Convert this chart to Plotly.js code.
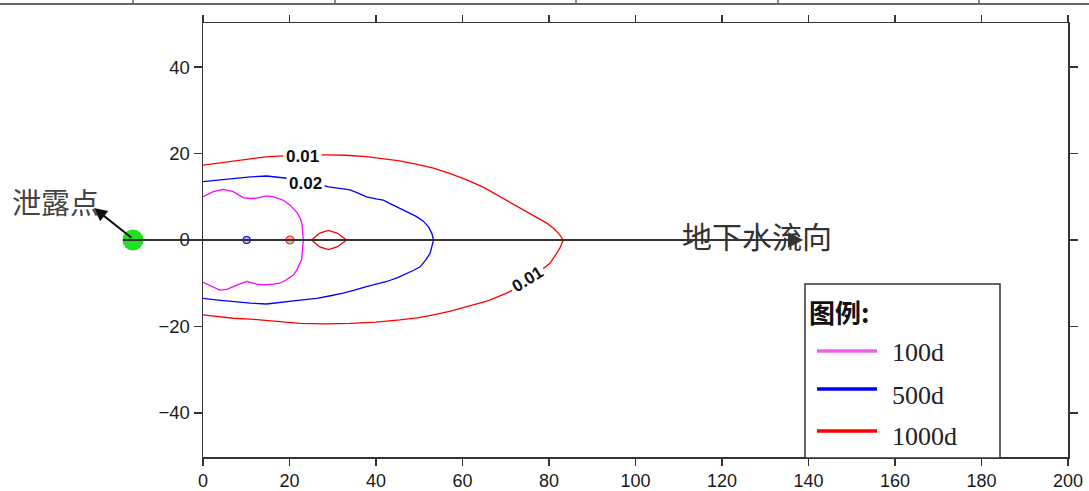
<!DOCTYPE html>
<html>
<head>
<meta charset="utf-8">
<script src="https://cdn.plot.ly/plotly-3.0.1.min.js"></script>
<style>html,body{margin:0;padding:0;background:#fff;}#chart{width:1089px;height:491px;}</style>
</head>
<body>
<div id="chart"></div>
<script>
// ---- data ----
const seriesNames = ['100d', '500d', '1000d'];
const contourLabels = ['0.01', '0.02', '0.01'];

// 100d contour (magenta)
const magX = [0, 2.4, 4.7, 7, 9.3, 11, 12.4, 14.7, 16.3, 18.6, 20.2, 21.7, 22.5, 22.9, 23.2, 22.9, 22.8, 21.7, 20.9, 19.3, 17.8, 16.3, 14, 12.4, 10.1, 8, 5.5, 3.9, 2, 0];
const magY = [10, 11.2, 11.7, 11.2, 9.8, 9.6, 9.7, 10.2, 10, 9.2, 8.0, 6.4, 5, 3.5, 0, -3, -4.5, -6.9, -8.1, -9.2, -10, -10.2, -10.4, -10.2, -9.6, -10.4, -11.4, -11.6, -10.8, -9.8];

// 500d contour 0.02 (blue)
const blueX = [0, 3.5, 7, 11, 14.7, 18, 22, 26, 29, 32, 34, 36, 37.8, 40, 41.7, 43.5, 45.5, 47.5, 49.4, 51, 52.1, 52.9, 53.3, 52.9, 52.5, 51.5, 50.2, 48.7, 47.1, 45, 42.5, 40, 37.8, 35, 32.4, 29.5, 26.3, 22.5, 18.6, 14.7, 11, 7, 3.5, 0];
const blueY = [13.5, 13.9, 14.3, 14.6, 14.8, 14.5, 14.0, 13.2, 12.3, 11.9, 11.6, 10.8, 10.0, 9.5, 9.2, 8.3, 7.3, 6.4, 5.4, 4.3, 3.1, 1.6, 0, -1.6, -3.1, -4.6, -6.2, -7.0, -7.7, -8.7, -9.6, -10.2, -10.8, -11.6, -12.3, -12.9, -13.5, -13.9, -14.3, -14.8, -14.6, -14.3, -13.9, -13.5];
const blueDotX = [10.1];
const blueDotY = [0];

// 1000d contour 0.01 (red)
const redX = [0, 3.5, 7, 11, 15, 20, 24, 28.6, 33, 37.8, 41.5, 45.5, 49.5, 53.3, 57, 61, 65, 68.7, 72, 74.8, 77.5, 79.5, 81.3, 82.5, 83.3, 82.5, 81.5, 80.2, 77, 74, 70.2, 66, 61, 57, 53.3, 49.5, 45.5, 40, 34, 28, 22.4, 18, 14.7, 11, 7, 3.5, 0];
const redY = [17.3, 17.8, 18.3, 18.8, 19.3, 19.5, 19.7, 19.7, 19.6, 19.3, 18.9, 18.3, 17.5, 16.6, 15.4, 13.9, 12.1, 10.0, 8.2, 6.5, 5.1, 3.9, 2.5, 1.2, 0, -1.9, -3.5, -5.4, -8.0, -10.3, -12.3, -14.0, -15.4, -16.5, -17.3, -18.0, -18.5, -19.0, -19.3, -19.4, -19.3, -18.9, -18.5, -18.3, -18.1, -17.7, -17.3];
const redLensX = [25.1, 27, 29, 31, 33.2, 31, 29, 27, 25.1];
const redLensY = [0, 1.6, 2.2, 1.6, 0, -1.6, -2.2, -1.6, 0];
const redDotX = [20.1];
const redDotY = [0];

// leak point and flow direction
const leakX = [-16.2];
const leakY = [0];
const flowX = [-18.5, 136];
const flowY = [0, 0];
const flowTip = 138.8;

const xTicks = [0, 20, 40, 60, 80, 100, 120, 140, 160, 180, 200];
const yTicks = [-40, -20, 0, 20, 40];

// ---- layout helpers ----
const W = 1089, H = 491;
const plotL = 203, plotR = 1068, plotT = 23, plotB = 457;
const xr = [0, 200], yr = [-50.2, 50.2];
const sx = (plotR - plotL) / (xr[1] - xr[0]);
const sy = (plotB - plotT) / (yr[1] - yr[0]);
const y0px = plotT + yr[1] * sy;
const px2x = p => p / W;
const py2y = p => (H - p) / H;

const colors = {mag: '#ff00ff', blue: '#0000ff', red: '#ff0000'};
const legendColors = ['#f060f0', '#0000ff', '#ff0000'];

const traces = [
  {x: magX, y: magY, mode: 'lines', name: seriesNames[0], line: {color: colors.mag, width: 1.3}},
  {x: blueX, y: blueY, mode: 'lines', name: seriesNames[1], line: {color: colors.blue, width: 1.3}},
  {x: blueDotX, y: blueDotY, mode: 'markers', name: seriesNames[1], marker: {symbol: 'circle', size: 7, color: 'rgba(120,120,255,0.5)', line: {color: colors.blue, width: 1.2}}},
  {x: redX, y: redY, mode: 'lines', name: seriesNames[2], line: {color: colors.red, width: 1.3}},
  {x: redLensX, y: redLensY, mode: 'lines', name: seriesNames[2], line: {color: colors.red, width: 1.3}},
  {x: redDotX, y: redDotY, mode: 'markers', name: seriesNames[2], marker: {symbol: 'circle', size: 8, color: 'rgba(220,100,60,0.5)', line: {color: '#e03020', width: 1.2}}},
  {x: leakX, y: leakY, xaxis: 'x2', yaxis: 'y2', mode: 'markers', name: 'leak', marker: {symbol: 'circle', size: 21, color: '#22e022', line: {width: 0}}},
  {x: flowX, y: flowY, xaxis: 'x2', yaxis: 'y2', mode: 'lines', name: 'flow', line: {color: '#333', width: 2.2}}
];
traces.forEach(t => t.showlegend = false);

const tickFontY = {family: 'Liberation Sans, Arial, sans-serif', size: 18.5, color: '#1a1a1a'};
const tickFontX = {family: 'Liberation Sans, Arial, sans-serif', size: 18, color: '#1a1a1a'};
const labelFont = {family: 'Liberation Sans, Arial, sans-serif', size: 17, color: '#111'};
const cjk = 'Noto Sans CJK SC, sans-serif';
const serif = 'Liberation Serif, Times New Roman, serif';

const annotations = [
  {x: 23.1, y: 19.4, xref: 'x', yref: 'y', text: '<b>' + contourLabels[0] + '</b>', showarrow: false, font: labelFont, bgcolor: '#fff', borderpad: 2},
  {x: 23.6, y: 13.1, xref: 'x', yref: 'y', text: '<b>' + contourLabels[1] + '</b>', showarrow: false, font: labelFont, bgcolor: '#fff', borderpad: 2},
  {x: 75.0, y: -9.1, xref: 'x', yref: 'y', text: '<b>' + contourLabels[2] + '</b>', showarrow: false, font: labelFont, bgcolor: '#fff', borderpad: 2, textangle: -32},
  // flow arrowhead
  {x: flowTip, y: 0, xref: 'x', yref: 'y', ax: -40, ay: 0, text: '', showarrow: true, arrowhead: 2, arrowsize: 1.4, arrowwidth: 2.2, arrowcolor: '#333'},
  {x: px2x(757), y: py2y(235), xref: 'paper', yref: 'paper', xanchor: 'center', yanchor: 'middle', text: '地下水流向', showarrow: false, font: {family: cjk, size: 30, color: '#333'}},
  // leak point label + arrow
  {x: px2x(94), y: py2y(208), xref: 'paper', yref: 'paper', ax: 39, ay: 31, text: '', showarrow: true, arrowhead: 2, arrowsize: 1.3, arrowwidth: 2, arrowcolor: '#111'},
  {x: px2x(55), y: py2y(201), xref: 'paper', yref: 'paper', xanchor: 'center', yanchor: 'middle', text: '泄露点', showarrow: false, font: {family: cjk, size: 29, color: '#444'}},
  // legend
  {x: px2x(807), y: py2y(311), xref: 'paper', yref: 'paper', xanchor: 'left', yanchor: 'middle', text: '<b>图例:</b>', showarrow: false, font: {family: cjk, size: 26, color: '#111'}}
];
const legendRows = [351, 389, 431];
const legendTextRows = [352, 395, 436];
seriesNames.forEach((n, i) => {
  annotations.push({x: px2x(890), y: py2y(legendTextRows[i]), xref: 'paper', yref: 'paper', xanchor: 'left', yanchor: 'middle', text: n, showarrow: false, font: {family: serif, size: 26, color: '#222'}});
});

const shapes = [
  {type: 'rect', xref: 'paper', yref: 'paper', x0: px2x(805), x1: px2x(1000), y0: py2y(458), y1: py2y(284), line: {color: '#333', width: 1.5}, fillcolor: '#fff', layer: 'above'},
  // remnant frame of the figure above
  {type: 'line', xref: 'paper', yref: 'paper', x0: 0, x1: 1, y0: py2y(4), y1: py2y(4), line: {color: '#666', width: 2}}
];
[133, 335, 576, 778, 979].forEach(p => shapes.push({type: 'line', xref: 'paper', yref: 'paper', x0: px2x(p), x1: px2x(p), y0: py2y(0), y1: py2y(4), line: {color: '#666', width: 1.5}}));
legendRows.forEach((r, i) => shapes.push({type: 'line', xref: 'paper', yref: 'paper', x0: px2x(817), x1: px2x(877), y0: py2y(r), y1: py2y(r), line: {color: legendColors[i], width: 3.5}, layer: 'above'}));

const axisCommon = {
  showgrid: false, zeroline: false, showline: true, linecolor: '#333', linewidth: 1.5,
  mirror: 'ticks', ticks: 'outside', ticklen: 8, tickwidth: 1.3, tickcolor: '#333',
  fixedrange: true
};

const layout = {
  width: W, height: H,
  margin: {l: 0, r: 0, t: 0, b: 0},
  paper_bgcolor: '#fff', plot_bgcolor: 'rgba(0,0,0,0)',
  showlegend: false,
  xaxis: Object.assign({}, axisCommon, {range: xr, tickvals: xTicks, ticklen: 7, tickfont: tickFontX, domain: [plotL / W, plotR / W], anchor: 'y'}),
  yaxis: Object.assign({}, axisCommon, {range: yr, tickvals: yTicks, tickfont: tickFontY, domain: [(H - plotB) / H, (H - plotT) / H], anchor: 'x'}),
  // full-figure axes (same scale) for marks outside the frame
  xaxis2: {anchor: 'y2', visible: false, domain: [0, 1], range: [xr[0] - plotL / sx, xr[0] + (W - plotL) / sx], fixedrange: true, showgrid: false, zeroline: false},
  yaxis2: {anchor: 'x2', visible: false, domain: [0, 1], range: [-(H - y0px) / sy, y0px / sy], fixedrange: true, showgrid: false, zeroline: false},
  annotations: annotations,
  shapes: shapes
};

Plotly.newPlot('chart', traces, layout, {displayModeBar: false, staticPlot: true});
</script>
</body>
</html>
